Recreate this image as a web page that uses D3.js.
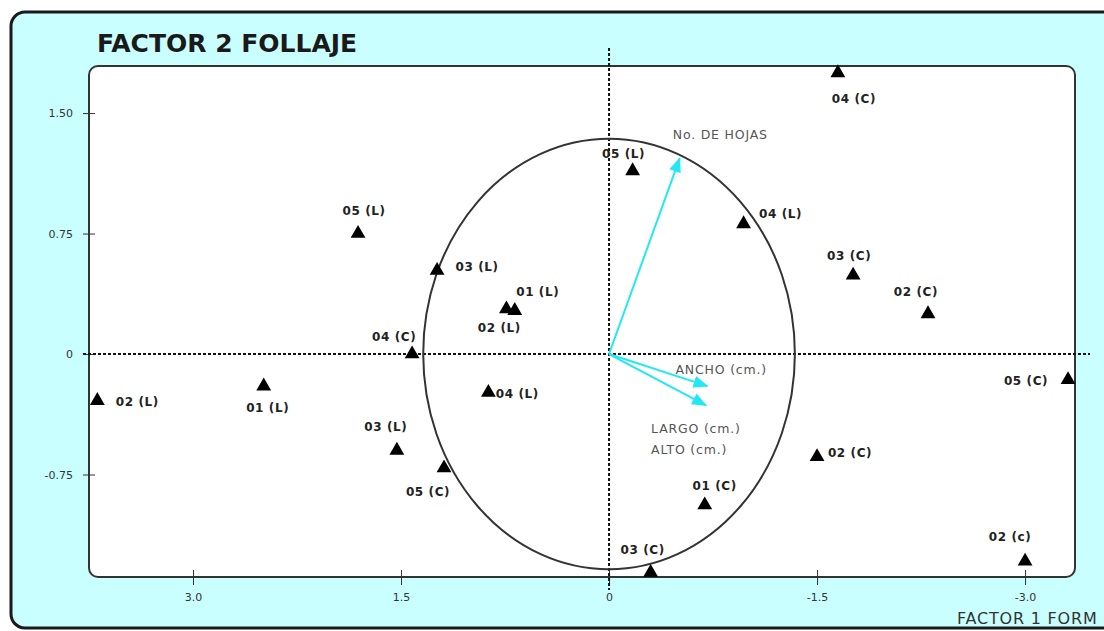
<!DOCTYPE html>
<html>
<head>
<meta charset="utf-8">
<script src="https://cdn.jsdelivr.net/npm/d3@7"></script>
<style>
  body { margin: 0; background: #fff; }
  svg { display: block; font-family: "DejaVu Sans", Verdana, sans-serif; }
</style>
</head>
<body>
<svg id="chart" width="1104" height="631"></svg>
<script>
// point labels and their coordinates (factor 1, factor 2)
var pointNames = ["04 (C)", "05 (L)", "04 (L)", "05 (L)", "03 (L)", "03 (C)", "02 (C)",
    "01 (L)", "02 (L)", "04 (C)", "04 (L)", "02 (L)", "01 (L)", "05 (C)",
    "03 (L)", "05 (C)", "02 (C)", "01 (C)", "03 (C)", "02 (c)"];
var factor1 = [-1.65, -0.17, -0.97, 1.81, 1.24, -1.76, -2.30,
    0.68, 0.74, 1.42, 0.87, 3.69, 2.49, -3.31,
    1.53, 1.19, -1.50, -0.69, -0.30, -3.00];
var factor2 = [1.75, 1.14, 0.81, 0.75, 0.52, 0.49, 0.25,
    0.27, 0.28, 0.00, -0.24, -0.29, -0.20, -0.16,
    -0.60, -0.71, -0.64, -0.94, -1.36, -1.29];

// variable vectors
var varNames = ["No. DE HOJAS", "ANCHO (cm.)", "LARGO (cm.)", "ALTO (cm.)"];
var varX = [-0.51, -0.71, -0.70, -0.70];
var varY = [1.22, -0.20, -0.32, -0.32];

var xTicks = [3.0, 1.5, 0, -1.5, -3.0];
var xTickLabels = ["3.0", "1.5", "0", "-1.5", "-3.0"];
var yTicks = [1.5, 0.75, 0, -0.75];
var yTickLabels = ["1.50", "0.75", "0", "-0.75"];
var circleRadius = 1.34;

// label placement (pixel offsets of label centre from the marker)
var labelOffsets = [[16, 26], [-9, -17], [37, -10], [6, -23], [40, -4], [-4, -20], [-12, -22],
    [23, -19], [-7, 19], [-18, -17], [29, 1], [40, 1], [4, 22], [-42, 1],
    [-11, -24], [-16, 24], [33, -4], [10, -19], [-8, -23], [-15, -24]];
var varLabelOffsets = [[-7, -23], [-32, -17], [-55, 23], [-55, 44]];

(function() {
var svg = d3.select("#chart");
var plotLeft = 89, plotRight = 1075, plotTop = 66, plotBottom = 577;

var x = d3.scaleLinear().domain([3.75, -3.36]).range([plotLeft, plotRight]);
var y = d3.scaleLinear().domain([1.793, -1.388]).range([plotTop, plotBottom]);

// outer panel
svg.append("rect")
    .attr("x", 11).attr("y", 12)
    .attr("width", 1110).attr("height", 616)
    .attr("rx", 14)
    .attr("fill", "#c9ffff")
    .attr("stroke", "#1a1a1a")
    .attr("stroke-width", 3);

svg.append("text")
    .attr("x", 97).attr("y", 52)
    .attr("font-size", 25).attr("font-weight", "bold")
    .attr("fill", "#1a1a1a")
    .text("FACTOR 2 FOLLAJE");

// plot area
svg.append("rect")
    .attr("x", plotLeft).attr("y", plotTop)
    .attr("width", plotRight - plotLeft).attr("height", plotBottom - plotTop)
    .attr("rx", 9)
    .attr("fill", "#fff")
    .attr("stroke", "#333")
    .attr("stroke-width", 2);

// axes
var xAxis = svg.append("g")
    .attr("transform", "translate(0," + plotBottom + ")")
    .call(d3.axisBottom(x).tickValues(xTicks)
        .tickFormat(function(d, i) { return xTickLabels[i]; })
        .tickSizeOuter(0));
xAxis.select(".domain").remove();
xAxis.selectAll(".tick line").attr("y1", -7).attr("y2", 8).attr("stroke", "#333");
xAxis.selectAll(".tick text").attr("y", 16).attr("dy", ".71em")
    .attr("font-size", 11).attr("fill", "#333")
    .attr("font-family", "DejaVu Sans, sans-serif");

var yAxis = svg.append("g")
    .attr("transform", "translate(" + plotLeft + ",0)")
    .call(d3.axisLeft(y).tickValues(yTicks)
        .tickFormat(function(d, i) { return yTickLabels[i]; })
        .tickSizeOuter(0));
yAxis.select(".domain").remove();
yAxis.selectAll(".tick line").attr("x1", -6).attr("x2", 6).attr("stroke", "#333");
yAxis.selectAll(".tick text").attr("x", -16)
    .attr("font-size", 11).attr("fill", "#333")
    .attr("font-family", "DejaVu Sans, sans-serif");

svg.append("text")
    .attr("x", 957).attr("y", 624)
    .attr("font-size", 16).attr("letter-spacing", 0.8)
    .attr("fill", "#333")
    .text("FACTOR 1 FORM");

// dashed zero lines
svg.append("line")
    .attr("x1", plotLeft - 6).attr("x2", plotRight + 15)
    .attr("y1", y(0)).attr("y2", y(0))
    .attr("stroke", "#111").attr("stroke-width", 2)
    .attr("stroke-dasharray", "3,2");
svg.append("line")
    .attr("x1", x(0)).attr("x2", x(0))
    .attr("y1", 48).attr("y2", 590)
    .attr("stroke", "#111").attr("stroke-width", 2)
    .attr("stroke-dasharray", "3,2");

// correlation circle
svg.append("ellipse")
    .attr("cx", x(0)).attr("cy", y(0))
    .attr("rx", Math.abs(x(circleRadius) - x(0)))
    .attr("ry", Math.abs(y(circleRadius) - y(0)))
    .attr("fill", "none")
    .attr("stroke", "#333")
    .attr("stroke-width", 2);

// vectors
var cyan = "#22e8f6";
svg.append("defs").append("marker")
    .attr("id", "head")
    .attr("markerUnits", "userSpaceOnUse")
    .attr("viewBox", "0 -7 15 14")
    .attr("refX", 14).attr("refY", 0)
    .attr("markerWidth", 15).attr("markerHeight", 14)
    .attr("orient", "auto")
    .append("path")
    .attr("d", "M0,-6L15,0L0,6Z")
    .attr("fill", cyan);

var vecs = varNames.map(function(n, i) { return { name: n, vx: varX[i], vy: varY[i], off: varLabelOffsets[i] }; });

svg.selectAll(".vec").data(vecs.slice(0, 3)).enter().append("line")
    .attr("class", "vec")
    .attr("x1", x(0)).attr("y1", y(0))
    .attr("x2", function(d) { return x(d.vx); })
    .attr("y2", function(d) { return y(d.vy); })
    .attr("stroke", cyan).attr("stroke-width", 2)
    .attr("marker-end", "url(#head)");

svg.selectAll(".vec-label").data(vecs).enter().append("text")
    .attr("class", "vec-label")
    .attr("x", function(d) { return x(d.vx) + d.off[0]; })
    .attr("y", function(d) { return y(d.vy) + d.off[1]; })
    .attr("dy", "0.35em")
    .attr("font-size", 12.5).attr("letter-spacing", 0.8)
    .attr("fill", "#555")
    .text(function(d) { return d.name; });

// points
var points = pointNames.map(function(n, i) {
    return { name: n, fx: factor1[i], fy: factor2[i], off: labelOffsets[i] };
});

svg.selectAll(".pt").data(points).enter().append("path")
    .attr("class", "pt")
    .attr("transform", function(d) { return "translate(" + x(d.fx) + "," + y(d.fy) + ")"; })
    .attr("d", d3.symbol().type(d3.symbolTriangle).size(95))
    .attr("fill", "#000");

svg.selectAll(".pt-label").data(points).enter().append("text")
    .attr("class", "pt-label")
    .attr("x", function(d) { return x(d.fx) + d.off[0]; })
    .attr("y", function(d) { return y(d.fy) + d.off[1]; })
    .attr("dy", "0.35em")
    .attr("text-anchor", "middle")
    .attr("font-size", 12).attr("font-weight", "bold")
    .attr("letter-spacing", 0.6)
    .attr("fill", "#222")
    .text(function(d) { return d.name; });
})();
</script>
</body>
</html>
